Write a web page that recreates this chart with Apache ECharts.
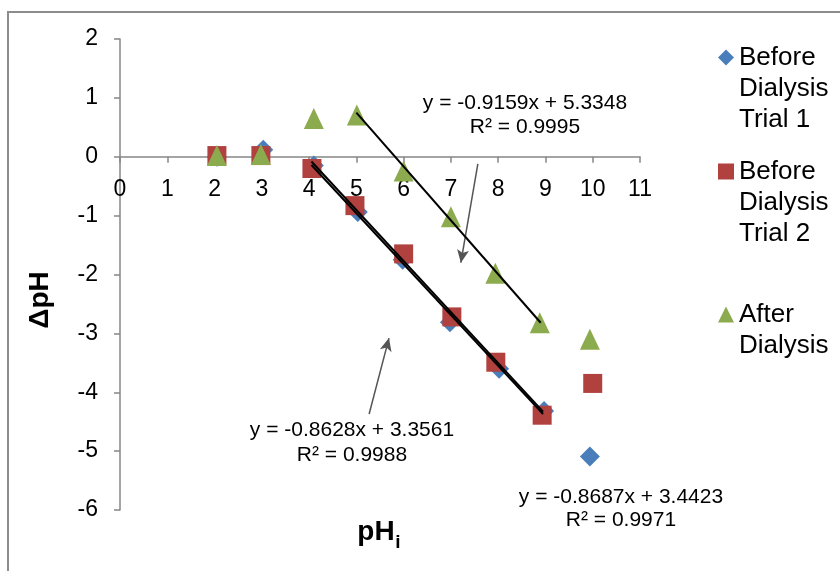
<!DOCTYPE html>
<html>
<head>
<meta charset="utf-8">
<script src="https://cdn.jsdelivr.net/npm/echarts@6/dist/echarts.min.js"></script>
<style>
html,body{margin:0;padding:0;background:#fff}
#chart{width:840px;height:571px}
</style>
</head>
<body>
<div id="chart"></div>
<script>
// values, [pHi, dpH]
var beforeTrial1 = [[2.05,0.0],[3.03,0.12],[4.1,-0.15],[5.03,-0.94],[5.98,-1.75],[6.98,-2.81],[8.02,-3.6],[8.97,-4.32],[9.94,-5.09]];
var beforeTrial2 = [[2.05,0.02],[2.98,0.02],[4.06,-0.2],[4.97,-0.83],[6.0,-1.65],[7.02,-2.72],[7.95,-3.49],[8.93,-4.39],[10.0,-3.85]];
var afterDialysis = [[2.05,0.02],[2.98,0.04],[4.1,0.65],[5.01,0.71],[6.0,-0.24],[7.0,-1.02],[7.94,-1.98],[8.88,-2.82],[9.94,-3.1]];

// trendline end points
var trendAfter = [[5.0,0.75],[8.9,-2.82]];
var trendTrial1 = [[4.05,-0.08],[8.95,-4.33]];
var trendTrial2 = [[4.05,-0.14],[8.95,-4.37]];

// arrows pointing from the equations to the lines
var arrowAfter = [[7.57,-0.12],[7.21,-1.80]];
var arrowTrial2 = [[5.27,-4.37],[5.69,-3.08]];

var seriesNames = ['Before Dialysis Trial 1','Before Dialysis Trial 2','After Dialysis'];
var legendLines = {
    'Before Dialysis Trial 1': ['Before','Dialysis','Trial 1'],
    'Before Dialysis Trial 2': ['Before','Dialysis','Trial 2'],
    'After Dialysis': ['After','Dialysis']
};
var eqAfter = ['y = -0.9159x + 5.3348','R² = 0.9995'];
var eqTrial2 = ['y = -0.8628x + 3.3561','R² = 0.9988'];
var eqTrial1 = ['y = -0.8687x + 3.4423','R² = 0.9971'];

var xMin = 0, xMax = 11, xStep = 1;
var yMin = -6, yMax = 2, yStep = 1;

var font = '"Liberation Sans", Arial, sans-serif';
var axisGray = '#868686';
var gridTop = 39, gridBottom = 61, chartH = 571;
// shift the x axis up to dpH = 0
var plotH = chartH - gridTop - gridBottom;
var zeroOffset = plotH * (0 - yMin) / (yMax - yMin);

function legendFor(name, icon, top) {
    return {
        data: [{name: name, icon: icon}],
        orient: 'vertical',
        left: 718,
        top: top,
        padding: 0,
        itemWidth: 16,
        itemHeight: 16,
        selectedMode: false,
        textStyle: {fontSize: 26, lineHeight: 31, color: '#000', fontFamily: font},
        // blank lines on top so the marker sits beside the first line
        formatter: function (nm) {
            var lines = legendLines[nm];
            var pad = [];
            for (var i = 1; i < lines.length; i++) pad.push('');
            return pad.concat(lines).join('\n');
        }
    };
}

function eqText(lines, cx, y1, y2) {
    return [
        {type: 'text', x: cx, y: y1, style: {text: lines[0], fontSize: 21, fontFamily: font, fill: '#000', textAlign: 'center', textVerticalAlign: 'middle'}},
        {type: 'text', x: cx, y: y2, style: {text: lines[1], fontSize: 21, fontFamily: font, fill: '#000', textAlign: 'center', textVerticalAlign: 'middle'}}
    ];
}

function trend(data) {
    return {
        type: 'line', data: data, symbol: 'none', z: 5, silent: true,
        lineStyle: {color: '#000', width: 2}
    };
}

var chart = echarts.init(document.getElementById('chart'));
chart.setOption({
    animation: false,
    grid: {left: 120, right: 200, top: gridTop, bottom: gridBottom, outerBoundsMode: 'none'},
    xAxis: {
        type: 'value', min: xMin, max: xMax, interval: xStep,
        position: 'bottom', offset: -zeroOffset,
        axisLine: {onZero: false, lineStyle: {color: axisGray, width: 1.5}},
        axisTick: {show: true, length: 6, lineStyle: {color: axisGray, width: 1.5}},
        axisLabel: {color: '#000', fontSize: 23, fontFamily: font, margin: 21},
        splitLine: {show: false}
    },
    yAxis: {
        type: 'value', min: yMin, max: yMax, interval: yStep,
        axisLine: {show: true, onZero: false, lineStyle: {color: axisGray, width: 1.5}},
        axisTick: {show: true, length: 6, lineStyle: {color: axisGray, width: 1.5}},
        axisLabel: {color: '#000', fontSize: 23, fontFamily: font, margin: 22},
        splitLine: {show: false}
    },
    legend: [
        legendFor(seriesNames[0], 'diamond', -20),
        legendFor(seriesNames[1], 'rect', 94),
        legendFor(seriesNames[2], 'triangle', 268)
    ],
    series: [
        {name: seriesNames[0], type: 'scatter', data: beforeTrial1, symbol: 'diamond', symbolSize: 20, z: 2,
         itemStyle: {color: '#4A7EBB', opacity: 1}},
        {name: seriesNames[1], type: 'scatter', data: beforeTrial2, symbol: 'rect', symbolSize: 19, z: 3,
         itemStyle: {color: '#B0413E', opacity: 1}},
        {name: seriesNames[2], type: 'scatter', data: afterDialysis, symbol: 'triangle', symbolSize: [20, 21], z: 4,
         itemStyle: {color: '#8CAB4E', opacity: 1}},
        trend(trendAfter),
        trend(trendTrial1),
        trend(trendTrial2),
        {
            type: 'line', data: [], silent: true,
            markLine: {
                silent: true, animation: false,
                symbol: ['none', 'arrow'], symbolSize: [9, 13],
                lineStyle: {color: '#555', width: 1.5, type: 'solid'},
                label: {show: false},
                emphasis: {disabled: true},
                data: [
                    [{coord: arrowAfter[0]}, {coord: arrowAfter[1]}],
                    [{coord: arrowTrial2[0]}, {coord: arrowTrial2[1]}]
                ]
            }
        }
    ],
    graphic: [
        {type: 'rect', shape: {x: 8, y: 12, width: 900, height: 700}, style: {fill: null, stroke: '#8c8c8c', lineWidth: 2}, silent: true},
        {type: 'text', x: 40, y: 300, rotation: Math.PI / 2,
         style: {text: 'ΔpH', fontSize: 28, fontWeight: 'bold', fontFamily: font, fill: '#000', textAlign: 'center', textVerticalAlign: 'middle'}},
        {type: 'text', x: 376, y: 532,
         style: {text: 'pH', fontSize: 28, fontWeight: 'bold', fontFamily: font, fill: '#000', textAlign: 'center', textVerticalAlign: 'middle'}},
        {type: 'text', x: 398, y: 543,
         style: {text: 'i', fontSize: 19, fontWeight: 'bold', fontFamily: font, fill: '#000', textAlign: 'center', textVerticalAlign: 'middle'}}
    ].concat(eqText(eqAfter, 525, 103, 127), eqText(eqTrial2, 352, 430, 455), eqText(eqTrial1, 621, 497, 520))
});
</script>
</body>
</html>
